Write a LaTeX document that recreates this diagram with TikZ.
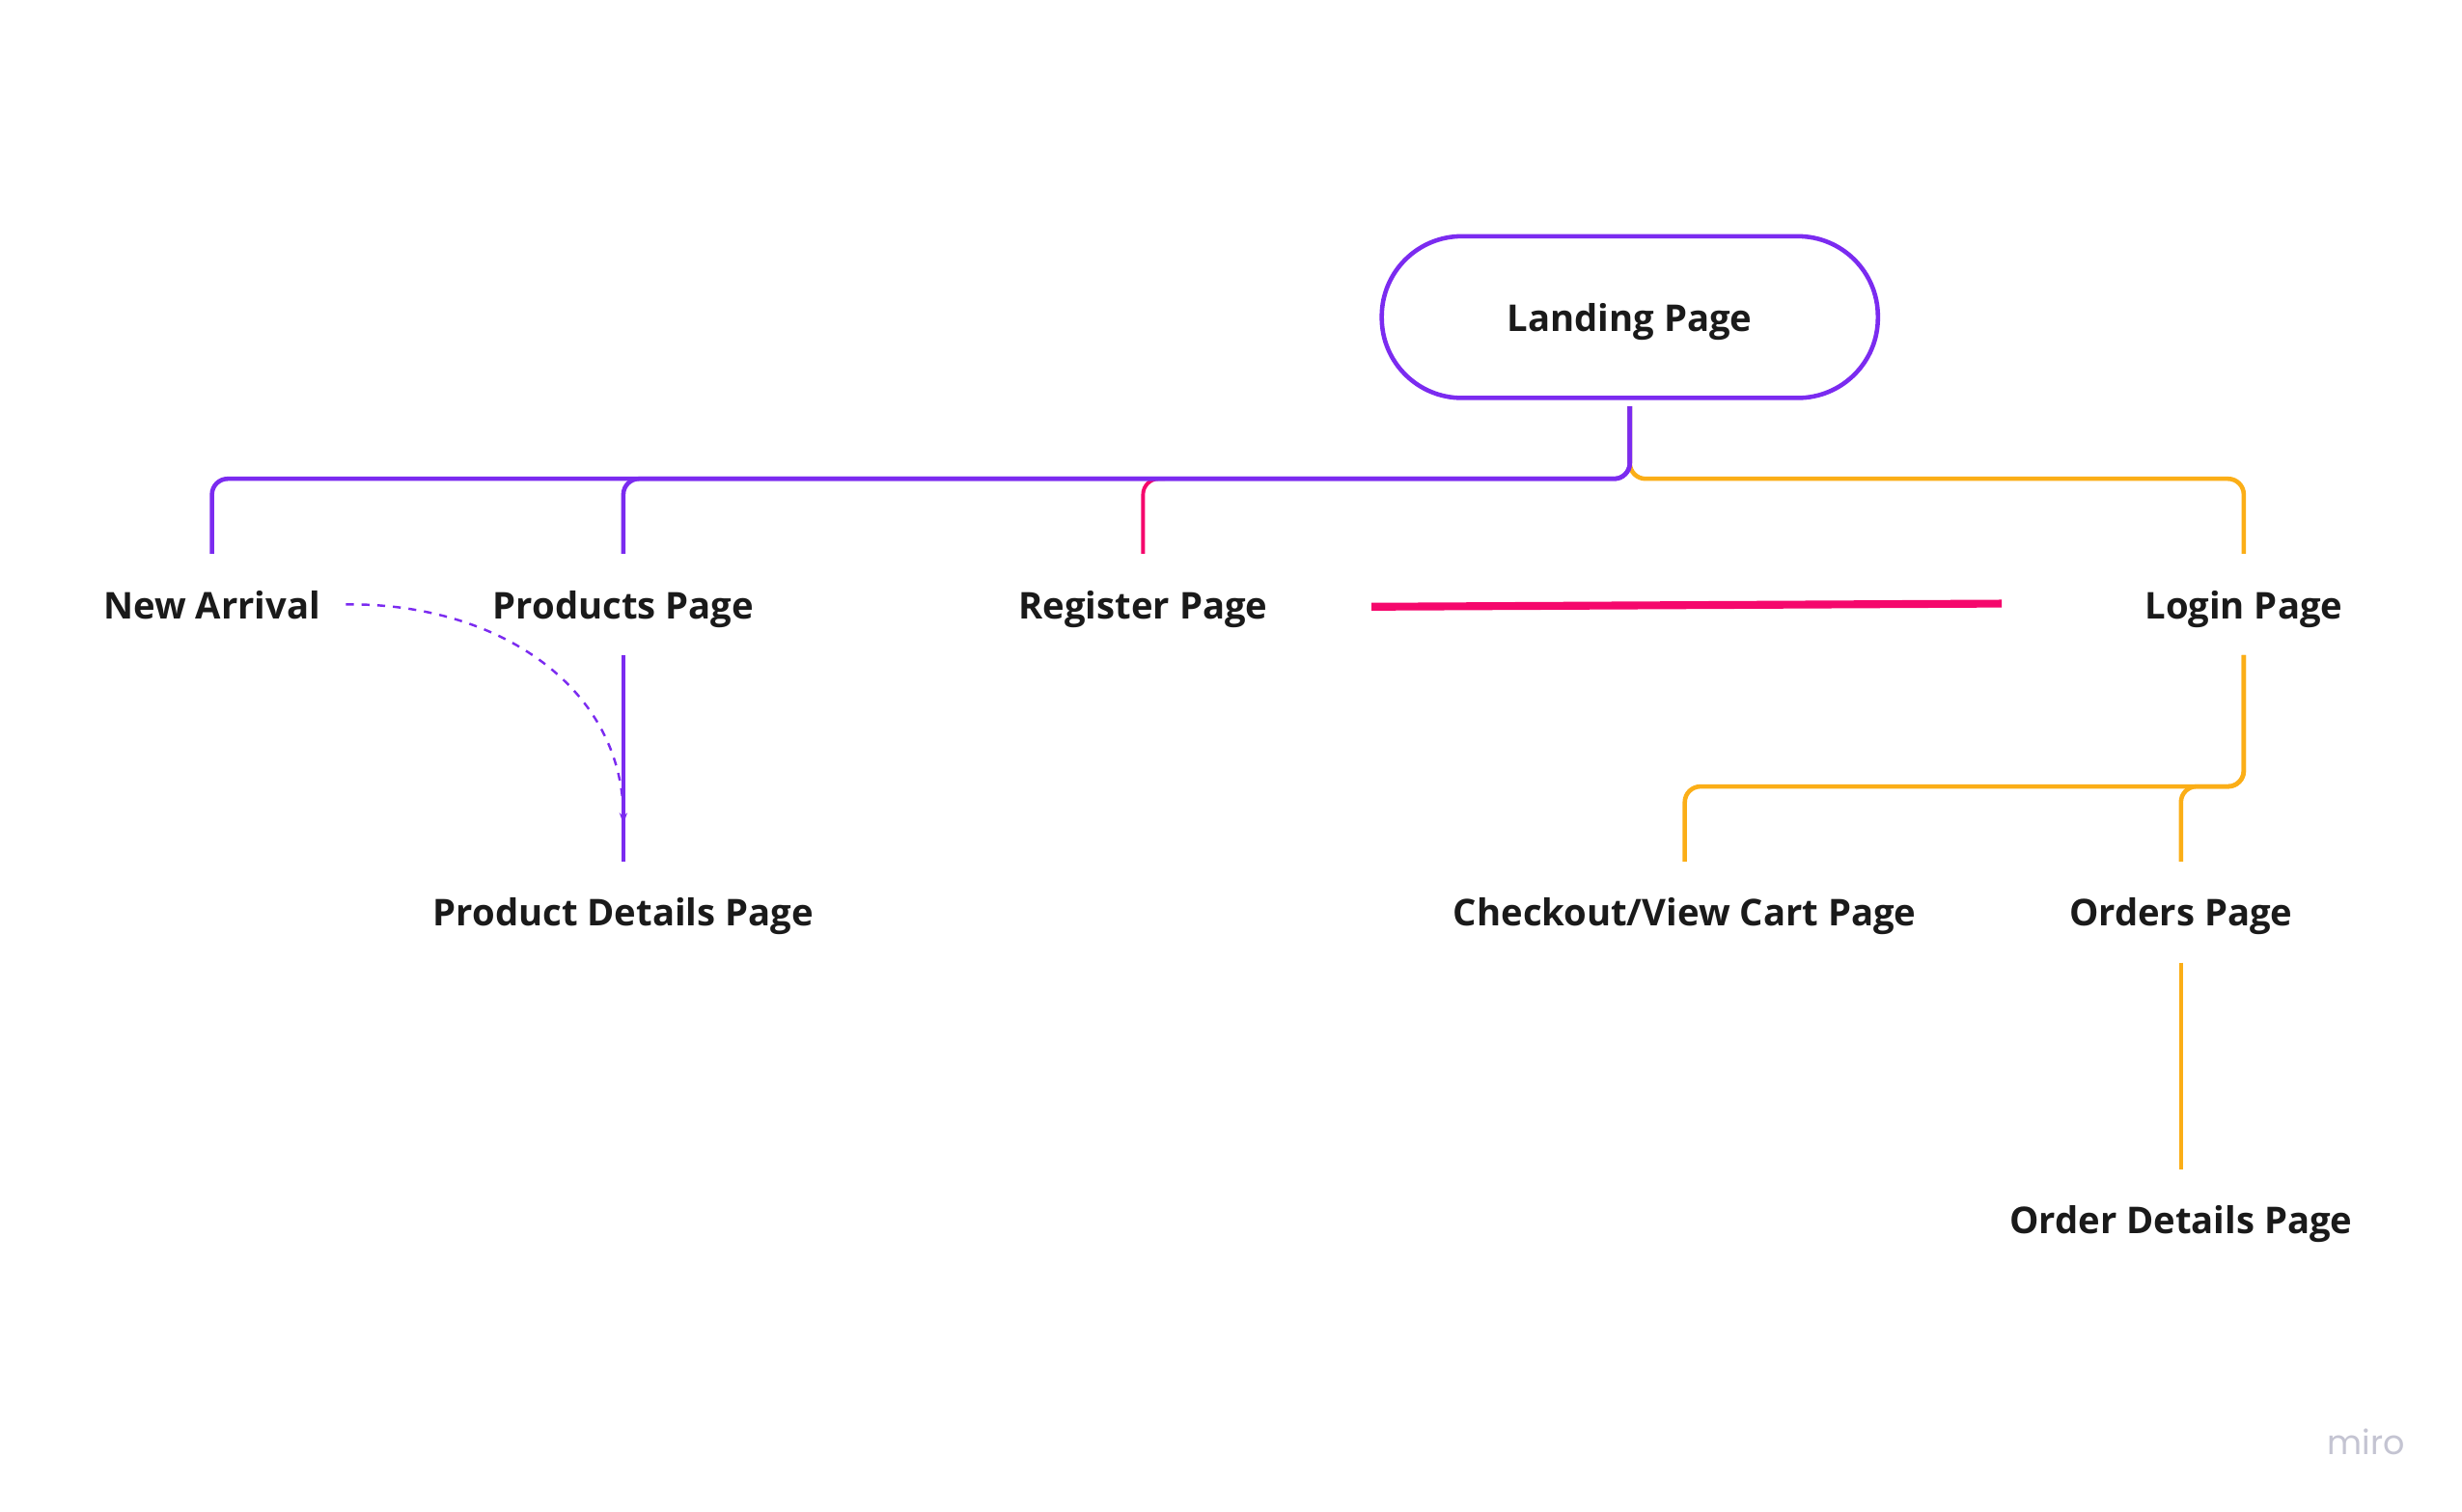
\documentclass[tikz,border=0pt]{standalone}
\usepackage{fontspec}
\setmainfont{Open Sans}
\newfontfamily\mirofont{Poppins}
\usetikzlibrary{arrows.meta,calc}
\definecolor{mpurple}{HTML}{7B2BF0}
\definecolor{morange}{HTML}{FBAE17}
\definecolor{mpink}{HTML}{F5086C}
\definecolor{mtext}{HTML}{1A1A1A}
\definecolor{mgrey}{HTML}{C4C4D2}
\tikzset{
  pagelabel/.style={font=\fontsize{23.5}{28}\selectfont\bfseries, text=mtext,
    inner xsep=16pt, inner ysep=0pt, minimum height=64pt,
    text height=23pt, text depth=5pt},
  pill/.style={pagelabel, draw=mpurple, line width=2.8pt, rounded corners=51pt,
    minimum width=316pt, minimum height=103pt},
  link/.style={line width=2.8pt, rounded corners=10pt},
}
\begin{document}
\begin{tikzpicture}[x=1pt,y=-1pt]
\useasboundingbox[fill=white] (0,0) rectangle (1568,963);
% nodes
\node[pill] (landing) at (1038,202) {Landing Page};
\node[pagelabel] (na) at (135,385) {New Arrival};
\node[pagelabel] (pp) at (397,385) {Products Page};
\node[pagelabel] (rp) at (728,385) {Register Page};
\node[pagelabel] (lp) at (1429,385) {Login Page};
\node[pagelabel] (pd) at (397,581) {Product Details Page};
\node[pagelabel] (co) at (1073,581) {Checkout/View Cart Page};
\node[pagelabel] (op) at (1389,581) {Orders Page};
\node[pagelabel] (od) at (1389,777) {Order Details Page};
\node[font=\mirofont\fontsize{21.5}{24}\selectfont, text=mgrey, inner sep=0pt] (miro) at (1507,918.5) {miro};
% bus levels
\coordinate (busA) at (0,305);
\coordinate (busB) at (0,501);
\coordinate (stem) at ([yshift=-4pt]landing.south);
% connectors
\draw[link, morange] (stem) -- (stem |- busA) -| (lp.north);
\draw[link, mpink, line width=2.4pt] ($(rp.north |- busA)+(14,0)$) -| (rp.north);
\draw[link, mpurple] (stem) -- (stem |- busA) -| (na.north);
\draw[link, mpurple] (stem) -- (stem |- busA) -| (pp.north);
\draw[link, mpurple] (pp.south) -- (pd.north);
\draw[link, morange] (lp.south) -- (lp.south |- busB) -| (co.north);
\draw[link, morange] (lp.south) -- (lp.south |- busB) -| (op.north);
\draw[link, morange] (op.south) -- (od.north);
\draw[mpink, line width=5pt] ([xshift=50pt,yshift=-1.5pt]rp.east) -- ([xshift=-75pt,yshift=0.5pt]lp.west);
\draw[mpurple, line width=1.5pt, dash pattern=on 5pt off 5pt, -{Stealth[length=7pt,width=5pt]}]
  (na.east) .. controls (320,384) and (397,440) .. ([yshift=24pt]pd.north);
\end{tikzpicture}
\end{document}
